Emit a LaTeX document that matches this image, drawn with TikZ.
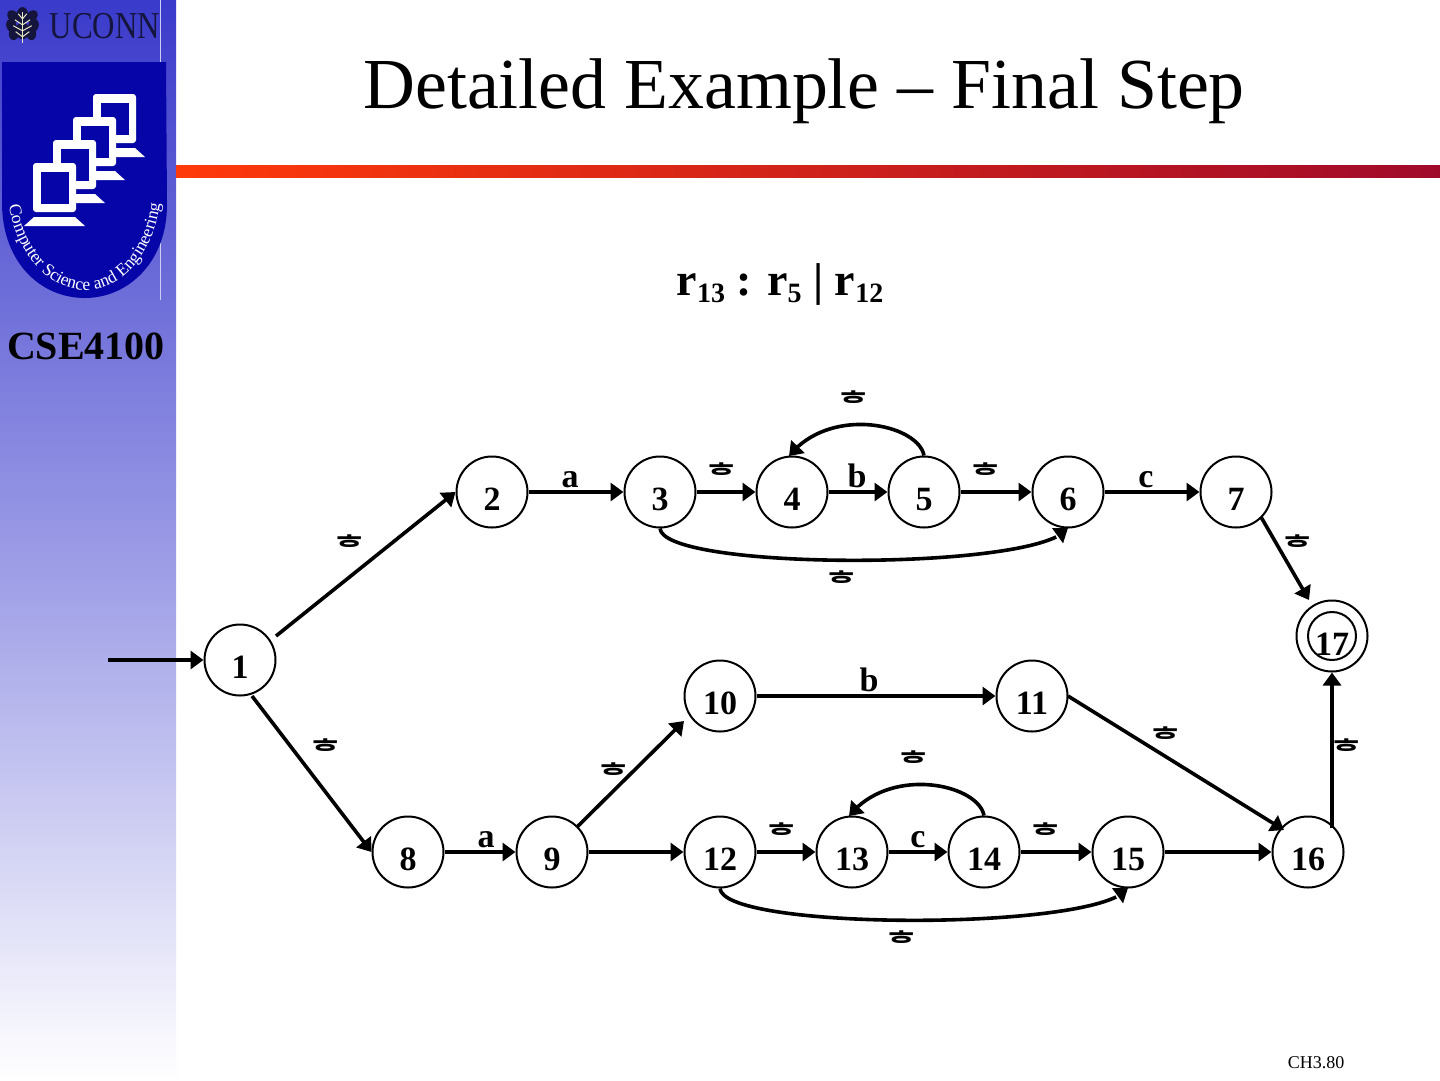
\documentclass[tikz,border=0pt]{standalone}
\usepackage{fontspec}
\setmainfont{Liberation Serif}
\newfontfamily\kor{Noto Sans CJK KR}[BoldFont={* Bold}]
\usetikzlibrary{arrows.meta,decorations.text,calc,bending}
\definecolor{sidetop}{HTML}{3A3ACB}
\definecolor{sidemid}{HTML}{A3A3E8}
\definecolor{shield}{HTML}{0606A8}
\definecolor{barL}{HTML}{FF3A0A}
\definecolor{barR}{HTML}{A00A2A}
\definecolor{leafdark}{HTML}{14143C}
\definecolor{leafpale}{HTML}{E8E8C8}
\tikzset{
  x=1pt,y=-1pt,
  st/.style={circle,draw=black,line width=2pt,fill=white,minimum size=71pt,inner sep=0pt},
  num/.style={font=\fontsize{34}{34}\selectfont\bfseries,inner sep=0pt,anchor=base},
  ar/.style={line width=3.6pt,-{Triangle[length=13pt,width=18pt]}},
  arc/.style={line width=3.6pt,-{Triangle[length=13pt,width=18pt,flex]}},
  eps/.style={font=\kor\fontsize{31}{31}\selectfont\bfseries,inner sep=0pt},
  lab/.style={font=\fontsize{34}{34}\selectfont\bfseries,inner sep=0pt,anchor=base},
}
\newcommand{\pcmon}[2]{%
 \begin{scope}[shift={(#1,#2)}]
  \fill[white] (-9,63) -- (1,54) -- (42,54) -- (52,63) -- cycle;
  \fill[white,rounded corners=3pt] (0,0) rectangle (43,49);
  \fill[shield] (7.5,8.5) rectangle (35.5,41);
 \end{scope}}
\newcommand{\sbs}[1]{\raisebox{-7pt}{\fontsize{28}{28}\selectfont #1}}
\begin{document}
\begin{tikzpicture}
\useasboundingbox (0,0) rectangle (1440,1080);
\fill[white] (0,0) rectangle (1440,1080);
\shade[top color=sidetop,bottom color=sidemid] (0,0) rectangle (176,600);
\shade[top color=sidemid,bottom color=white] (0,600) rectangle (176,1080);
\shade[left color=barL,right color=barR] (176,165) rectangle (1440,177);
% logo
\draw[white!75!sidetop,line width=1pt] (160,0) -- (160,300);
\fill[shield] (2,62) -- (166,62) -- (167,205) .. controls (167,262) and (128,298) .. (85,298) .. controls (40,298) and (3,262) .. (2,205) -- cycle;
\pcmon{93}{94}\pcmon{73}{117}\pcmon{53}{140}\pcmon{33}{163}
\path[decorate,decoration={text along path,text align=center,raise=0pt,text={|\fontsize{17.5}{17.5}\selectfont\color{white}|Computer Science and Engineering}}]
 (8,198) .. controls (14,255) and (50,290) .. (85,290) .. controls (122,290) and (155,255) .. (161,196);
\node[inner sep=0pt,text=leafdark] (uconn) at (105,26) {\scalebox{0.815}[1]{\fontsize{38}{38}\selectfont UCONN}};
\begin{scope}[shift={(22.5,24)},scale=0.85]
 \foreach \r/\dx/\dy in {40/-11/-9,-40/11/-9,20/-13/2,-20/13/2,-10/-10/11,10/10/11}{
  \fill[leafdark,rotate around={\r:(\dx,\dy)}] (\dx,\dy) ellipse (6pt and 8pt);}
 \fill[leafdark] (0,-10) ellipse (7pt and 10pt);
 \fill[leafdark] (0,8) ellipse (8pt and 10pt);
 \draw[leafpale,line width=1.4pt] (0,-14) -- (0,22);
 \foreach \y/\w in {-9/5,-2/9,5/11,12/8}{
  \draw[leafpale,line width=1pt] (-\w,\y-3) -- (0,\y+3) -- (\w,\y-3);}
\end{scope}
\node[font=\fontsize{40}{40}\selectfont\bfseries,inner sep=0pt,anchor=base] (cse) at (86,359) {CSE4100};
% titles
\node[font=\fontsize{71.8}{72}\selectfont,inner sep=0pt,anchor=base] (title) at (804,108) {Detailed Example – Final Step};
\node[font=\fontsize{46}{46}\selectfont\bfseries,inner sep=0pt,anchor=base] (form) at (780,295) {r\sbs{13} : r\sbs{5} | r\sbs{12}};
\node[font=\fontsize{18}{18}\selectfont,inner sep=0pt,anchor=base] (page) at (1316,1068) {CH3.80};
% states
\foreach \n/\x/\y in {1/240/660,2/492/492,3/660/492,4/792/492,5/924/492,6/1068/492,7/1236/492,8/408/852,9/552/852,10/720/696,11/1032/696,12/720/852,13/852/852,14/984/852,15/1128/852,16/1308/852,17/1332/636}{
  \node[st] (s\n) at (\x,\y) {};
}
\foreach \n/\x/\y in {1/240/660,2/492/492,3/660/492,4/792/492,5/924/492,6/1068/492,7/1236/492,8/408/852,9/552/852,10/720/696,11/1032/696,12/720/852,13/852/852,14/984/852,15/1128/852,16/1308/852}{
  \node[num] at (\x,\y+18.5) {\n};
}
\node[circle,draw,line width=2pt,minimum size=48pt,inner sep=0pt] (in17) at (1332,636) {};
\node[num] at (1332,655) {17};
\coordinate (start) at (108,660);
\coordinate (a1) at (276,636);
\coordinate (a2) at (252,696);
\coordinate (a7) at (1261,517);
\coordinate (t17) at (1309,600);
\coordinate (b9) at (577,827);
\coordinate (t10) at (684,721);
\coordinate (b11) at (1068,696);
\coordinate (t16) at (1284,830);
\coordinate (b16) at (1332,828);
% arrows
\draw[ar] (start) -- (s1);
\draw[ar] (a1) -- (s2.west);
\draw[ar] (a2) -- (s8.west);
\draw[ar] (s2) -- (s3);
\draw[ar] (s3) -- (s4);
\draw[ar] (s4) -- (s5);
\draw[ar] (s5) -- (s6);
\draw[ar] (s6) -- (s7);
\draw[ar] (a7) -- (t17);
\draw[ar] (s8) -- (s9);
\draw[ar] (b9) -- (t10);
\draw[ar] (s9) -- (s12);
\draw[ar] (s10) -- (s11);
\draw[ar] (b11) -- (t16);
\draw[ar] (s12) -- (s13);
\draw[ar] (s13) -- (s14);
\draw[ar] (s14) -- (s15);
\draw[ar] (s15) -- (s16);
\draw[ar] (b16) -- (s17);
\draw[arc] (s5.north) .. controls (918,424) and (830,405) .. (789,456);
\draw[arc] (s14.north) .. controls (978,784) and (890,765) .. (849,816);
\draw[arc] (s3.south) .. controls (664,571) and (1040,571) .. (1068,528);
\draw[arc] (s12.south) .. controls (724,931) and (1100,931) .. (1128,888);
% labels
\foreach \x/\y in {854/403,722/475,986/475,350/547,842/583,1298/547,1166/739,326/751,914/763,1347/751,614/775,782/835,1046/835,902/943}{
  \node[eps] at (\x,\y) {ᄒ};
}
\foreach \t/\x/\y in {a/570/487,b/857/487,c/1146/487,b/869/691,a/486/847,c/918/847}{
  \node[lab] at (\x,\y) {\t};
}
\end{tikzpicture}
\end{document}
